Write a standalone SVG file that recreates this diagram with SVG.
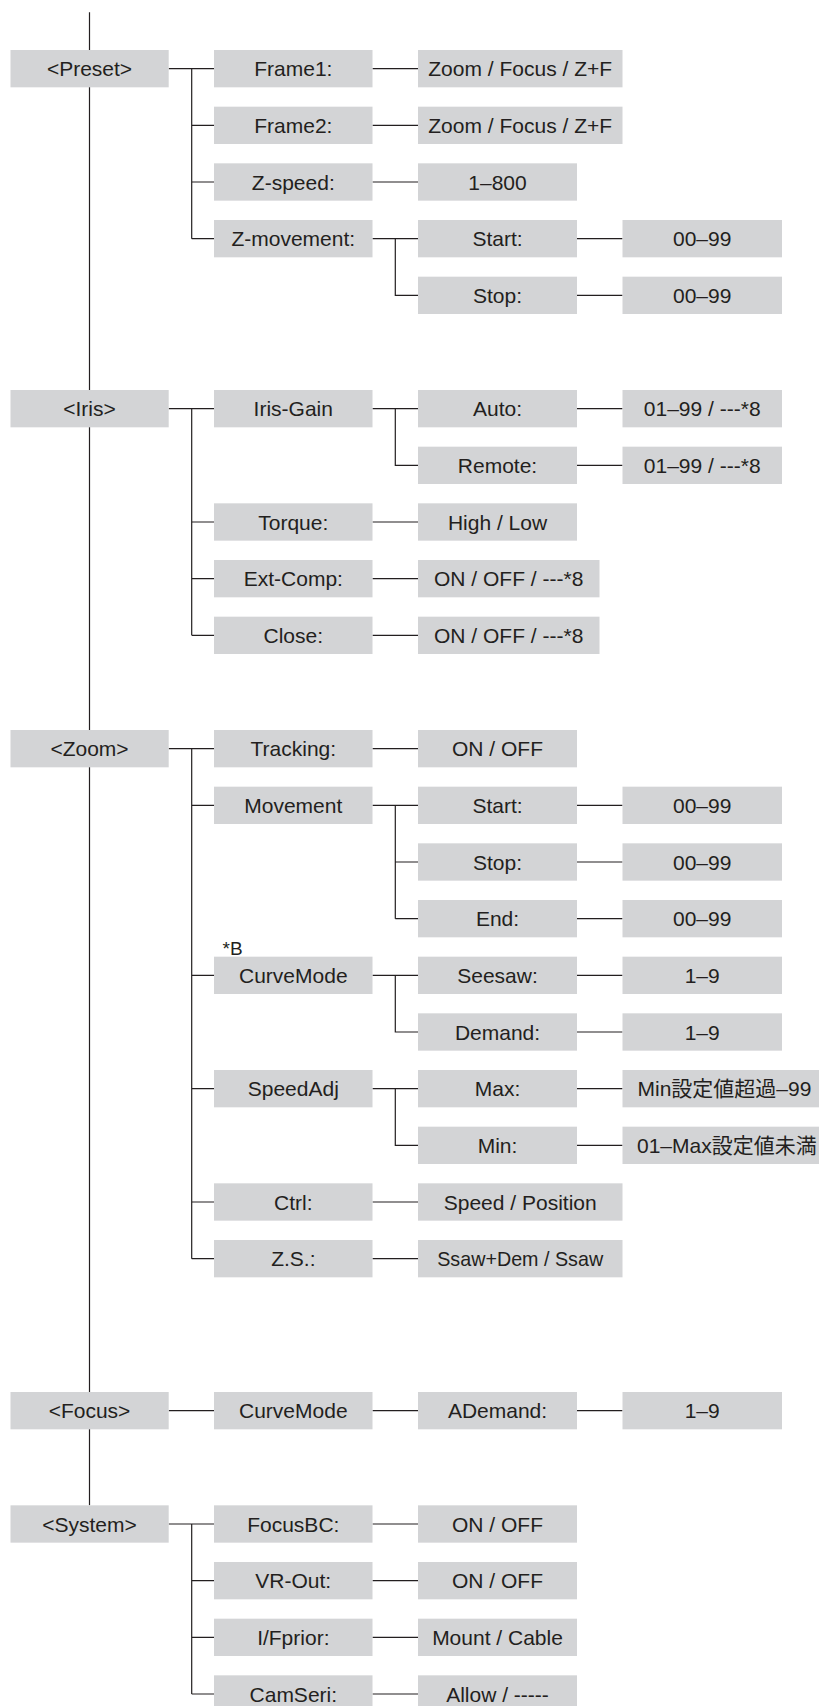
<svg xmlns="http://www.w3.org/2000/svg" width="819" height="1706" viewBox="0 0 819 1706">
<style>
.b{fill:#d3d4d6}
.t{font-family:"Liberation Sans",Arial,"Noto Sans CJK JP",sans-serif;font-size:21px;fill:#231f20;text-anchor:middle}
.n{font-family:"Liberation Sans",Arial,sans-serif;font-size:19px;fill:#231f20}
.c{stroke:#231f20;stroke-width:1.2;fill:none}
</style>
<rect width="819" height="1706" fill="#ffffff"/>
<g id="connectors" class="c">
<path d="M89.5 12.3V1505.33"/>
<path d="M168.7 68.67H214M191.7 68.67V238.67M191.7 125.33H214M191.7 182H214M191.7 238.67H214"/>
<path d="M372.5 68.67H418M372.5 125.33H418M372.5 182H418M372.5 238.67H418"/>
<path d="M395.3 238.67V295.33H418M577 238.67H622.5M577 295.33H622.5"/>
<path d="M168.7 408.67H214M191.7 408.67V635.33M191.7 522H214M191.7 578.67H214M191.7 635.33H214"/>
<path d="M372.5 408.67H418M372.5 522H418M372.5 578.67H418M372.5 635.33H418"/>
<path d="M395.3 408.67V465.33H418M577 408.67H622.5M577 465.33H622.5"/>
<path d="M168.7 748.67H214M191.7 748.67V1258.67M191.7 805.33H214M191.7 975.33H214M191.7 1088.67H214M191.7 1202H214M191.7 1258.67H214"/>
<path d="M372.5 748.67H418M372.5 805.33H418M372.5 975.33H418M372.5 1088.67H418M372.5 1202H418M372.5 1258.67H418"/>
<path d="M395.3 805.33V918.67M395.3 862H418M395.3 918.67H418M395.3 975.33V1032H418M395.3 1088.67V1145.33H418"/>
<path d="M577 805.33H622.5M577 862H622.5M577 918.67H622.5M577 975.33H622.5M577 1032H622.5M577 1088.67H622.5M577 1145.33H622.5"/>
<path d="M168.7 1410.67H214M372.5 1410.67H418M577 1410.67H622.5"/>
<path d="M168.7 1524H214M191.7 1524V1694M191.7 1580.67H214M191.7 1637.33H214M191.7 1694H214"/>
<path d="M372.5 1524H418M372.5 1580.67H418M372.5 1637.33H418M372.5 1694H418"/>
</g>
<g id="preset"><rect class="b" x="10.5" y="50" width="158.2" height="37.33"/><text class="t" x="89.5" y="76.2">&lt;Preset&gt;</text></g>
<g id="frame1"><rect class="b" x="214" y="50" width="158.5" height="37.33"/><text class="t" x="293.3" y="76.2">Frame1:</text></g>
<g id="frame1-val"><rect class="b" x="418" y="50" width="204.5" height="37.33"/><text class="t" x="520.2" y="76.2">Zoom / Focus / Z+F</text></g>
<g id="frame2"><rect class="b" x="214" y="106.67" width="158.5" height="37.33"/><text class="t" x="293.3" y="132.9">Frame2:</text></g>
<g id="frame2-val"><rect class="b" x="418" y="106.67" width="204.5" height="37.33"/><text class="t" x="520.2" y="132.9">Zoom / Focus / Z+F</text></g>
<g id="zspeed"><rect class="b" x="214" y="163.33" width="158.5" height="37.33"/><text class="t" x="293.3" y="189.5">Z-speed:</text></g>
<g id="zspeed-val"><rect class="b" x="418" y="163.33" width="159" height="37.33"/><text class="t" x="497.5" y="189.5">1–800</text></g>
<g id="zmovement"><rect class="b" x="214" y="220" width="158.5" height="37.33"/><text class="t" x="293.3" y="246.2">Z-movement:</text></g>
<g id="zmov-start"><rect class="b" x="418" y="220" width="159" height="37.33"/><text class="t" x="497.5" y="246.2">Start:</text></g>
<g id="zmov-start-val"><rect class="b" x="622.5" y="220" width="159.5" height="37.33"/><text class="t" x="702.2" y="246.2">00–99</text></g>
<g id="zmov-stop"><rect class="b" x="418" y="276.67" width="159" height="37.33"/><text class="t" x="497.5" y="302.9">Stop:</text></g>
<g id="zmov-stop-val"><rect class="b" x="622.5" y="276.67" width="159.5" height="37.33"/><text class="t" x="702.2" y="302.9">00–99</text></g>
<g id="iris"><rect class="b" x="10.5" y="390" width="158.2" height="37.33"/><text class="t" x="89.5" y="416.2">&lt;Iris&gt;</text></g>
<g id="iris-gain"><rect class="b" x="214" y="390" width="158.5" height="37.33"/><text class="t" x="293.3" y="416.2">Iris-Gain</text></g>
<g id="auto"><rect class="b" x="418" y="390" width="159" height="37.33"/><text class="t" x="497.5" y="416.2">Auto:</text></g>
<g id="auto-val"><rect class="b" x="622.5" y="390" width="159.5" height="37.33"/><text class="t" x="702.2" y="416.2">01–99 / ---*8</text></g>
<g id="remote"><rect class="b" x="418" y="446.67" width="159" height="37.33"/><text class="t" x="497.5" y="472.9">Remote:</text></g>
<g id="remote-val"><rect class="b" x="622.5" y="446.67" width="159.5" height="37.33"/><text class="t" x="702.2" y="472.9">01–99 / ---*8</text></g>
<g id="torque"><rect class="b" x="214" y="503.33" width="158.5" height="37.33"/><text class="t" x="293.3" y="529.5">Torque:</text></g>
<g id="torque-val"><rect class="b" x="418" y="503.33" width="159" height="37.33"/><text class="t" x="497.5" y="529.5">High / Low</text></g>
<g id="extcomp"><rect class="b" x="214" y="560" width="158.5" height="37.33"/><text class="t" x="293.3" y="586.2">Ext-Comp:</text></g>
<g id="extcomp-val"><rect class="b" x="418" y="560" width="181.5" height="37.33"/><text class="t" x="508.7" y="586.2">ON / OFF / ---*8</text></g>
<g id="close"><rect class="b" x="214" y="616.67" width="158.5" height="37.33"/><text class="t" x="293.3" y="642.9">Close:</text></g>
<g id="close-val"><rect class="b" x="418" y="616.67" width="181.5" height="37.33"/><text class="t" x="508.7" y="642.9">ON / OFF / ---*8</text></g>
<g id="zoom"><rect class="b" x="10.5" y="730" width="158.2" height="37.33"/><text class="t" x="89.5" y="756.2">&lt;Zoom&gt;</text></g>
<g id="tracking"><rect class="b" x="214" y="730" width="158.5" height="37.33"/><text class="t" x="293.3" y="756.2">Tracking:</text></g>
<g id="tracking-val"><rect class="b" x="418" y="730" width="159" height="37.33"/><text class="t" x="497.5" y="756.2">ON / OFF</text></g>
<g id="movement"><rect class="b" x="214" y="786.67" width="158.5" height="37.33"/><text class="t" x="293.3" y="812.9">Movement</text></g>
<g id="mov-start"><rect class="b" x="418" y="786.67" width="159" height="37.33"/><text class="t" x="497.5" y="812.9">Start:</text></g>
<g id="mov-start-val"><rect class="b" x="622.5" y="786.67" width="159.5" height="37.33"/><text class="t" x="702.2" y="812.9">00–99</text></g>
<g id="mov-stop"><rect class="b" x="418" y="843.33" width="159" height="37.33"/><text class="t" x="497.5" y="869.5">Stop:</text></g>
<g id="mov-stop-val"><rect class="b" x="622.5" y="843.33" width="159.5" height="37.33"/><text class="t" x="702.2" y="869.5">00–99</text></g>
<g id="mov-end"><rect class="b" x="418" y="900" width="159" height="37.33"/><text class="t" x="497.5" y="926.2">End:</text></g>
<g id="mov-end-val"><rect class="b" x="622.5" y="900" width="159.5" height="37.33"/><text class="t" x="702.2" y="926.2">00–99</text></g>
<g id="curvemode"><text class="n" x="222.5" y="954.5">*B</text><rect class="b" x="214" y="956.67" width="158.5" height="37.33"/><text class="t" x="293.3" y="982.9">CurveMode</text></g>
<g id="seesaw"><rect class="b" x="418" y="956.67" width="159" height="37.33"/><text class="t" x="497.5" y="982.9">Seesaw:</text></g>
<g id="seesaw-val"><rect class="b" x="622.5" y="956.67" width="159.5" height="37.33"/><text class="t" x="702.2" y="982.9">1–9</text></g>
<g id="demand"><rect class="b" x="418" y="1013.33" width="159" height="37.33"/><text class="t" x="497.5" y="1039.5">Demand:</text></g>
<g id="demand-val"><rect class="b" x="622.5" y="1013.33" width="159.5" height="37.33"/><text class="t" x="702.2" y="1039.5">1–9</text></g>
<g id="speedadj"><rect class="b" x="214" y="1070" width="158.5" height="37.33"/><text class="t" x="293.3" y="1096.2">SpeedAdj</text></g>
<g id="max"><rect class="b" x="418" y="1070" width="159" height="37.33"/><text class="t" x="497.5" y="1096.2">Max:</text></g>
<g id="max-val"><rect class="b" x="622.5" y="1070" width="210" height="37.33"/><text class="t" x="637.5" y="1096.2" style="text-anchor:start">Min設定値超過–99</text></g>
<g id="min"><rect class="b" x="418" y="1126.67" width="159" height="37.33"/><text class="t" x="497.5" y="1152.9">Min:</text></g>
<g id="min-val"><rect class="b" x="622.5" y="1126.67" width="210" height="37.33"/><text class="t" x="637" y="1152.9" style="text-anchor:start">01–Max設定値未満</text></g>
<g id="ctrl"><rect class="b" x="214" y="1183.33" width="158.5" height="37.33"/><text class="t" x="293.3" y="1209.5">Ctrl:</text></g>
<g id="ctrl-val"><rect class="b" x="418" y="1183.33" width="204.5" height="37.33"/><text class="t" x="520.2" y="1209.5">Speed / Position</text></g>
<g id="zs"><rect class="b" x="214" y="1240" width="158.5" height="37.33"/><text class="t" x="293.3" y="1266.2">Z.S.:</text></g>
<g id="zs-val"><rect class="b" x="418" y="1240" width="204.5" height="37.33"/><text class="t" x="520.2" y="1266.2" textLength="166" lengthAdjust="spacingAndGlyphs">Ssaw+Dem / Ssaw</text></g>
<g id="focus"><rect class="b" x="10.5" y="1392" width="158.2" height="37.33"/><text class="t" x="89.5" y="1418.2">&lt;Focus&gt;</text></g>
<g id="focus-curvemode"><rect class="b" x="214" y="1392" width="158.5" height="37.33"/><text class="t" x="293.3" y="1418.2">CurveMode</text></g>
<g id="ademand"><rect class="b" x="418" y="1392" width="159" height="37.33"/><text class="t" x="497.5" y="1418.2">ADemand:</text></g>
<g id="ademand-val"><rect class="b" x="622.5" y="1392" width="159.5" height="37.33"/><text class="t" x="702.2" y="1418.2">1–9</text></g>
<g id="system"><rect class="b" x="10.5" y="1505.33" width="158.2" height="37.33"/><text class="t" x="89.5" y="1531.5">&lt;System&gt;</text></g>
<g id="focusbc"><rect class="b" x="214" y="1505.33" width="158.5" height="37.33"/><text class="t" x="293.3" y="1531.5">FocusBC:</text></g>
<g id="focusbc-val"><rect class="b" x="418" y="1505.33" width="159" height="37.33"/><text class="t" x="497.5" y="1531.5">ON / OFF</text></g>
<g id="vrout"><rect class="b" x="214" y="1562" width="158.5" height="37.33"/><text class="t" x="293.3" y="1588.2">VR-Out:</text></g>
<g id="vrout-val"><rect class="b" x="418" y="1562" width="159" height="37.33"/><text class="t" x="497.5" y="1588.2">ON / OFF</text></g>
<g id="ifprior"><rect class="b" x="214" y="1618.67" width="158.5" height="37.33"/><text class="t" x="293.3" y="1644.9">I/Fprior:</text></g>
<g id="ifprior-val"><rect class="b" x="418" y="1618.67" width="159" height="37.33"/><text class="t" x="497.5" y="1644.9">Mount / Cable</text></g>
<g id="camseri"><rect class="b" x="214" y="1675.33" width="158.5" height="37.33"/><text class="t" x="293.3" y="1701.5">CamSeri:</text></g>
<g id="camseri-val"><rect class="b" x="418" y="1675.33" width="159" height="37.33"/><text class="t" x="497.5" y="1701.5">Allow / -----</text></g>
</svg>
